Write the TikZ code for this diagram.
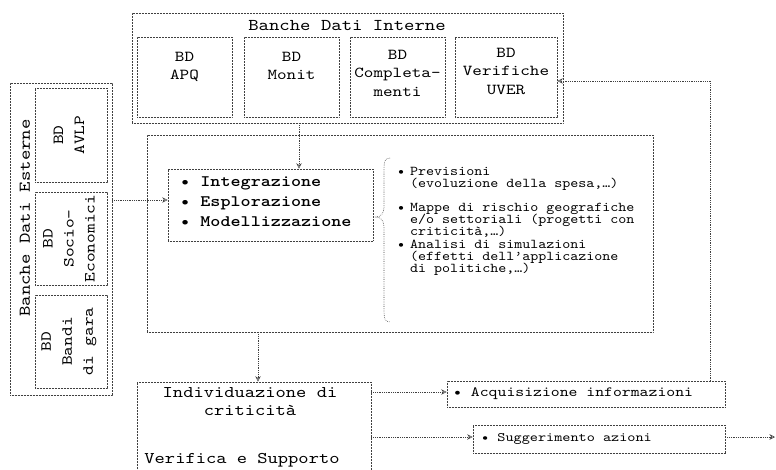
\documentclass[tikz,border=0pt]{standalone}
\usepackage{fontspec}
\usetikzlibrary{arrows.meta}
\newfontfamily\bmono{lmmonolt10-bold.otf}[FakeStretch=1.2]
\newfontfamily\cmono{lmmono10-regular.otf}[FakeStretch=1.2]
\newfontfamily\pmono{lmmono10-regular.otf}[FakeStretch=1.13]
\newcommand\bul{\makebox[13pt][l]{•}}
\newcommand\ind{\hspace*{13pt}}
\newcommand\tightlines{\setlength{\lineskiplimit}{-20pt}}
\begin{document}
\begin{tikzpicture}[x=1pt,y=-1pt,
  box/.style={rectangle, draw=black!75, dash pattern=on 0.6pt off 0.9pt, line width=0.6pt, inner sep=0pt},
  conn/.style={draw=black!75, dash pattern=on 0.6pt off 1.2pt, line width=0.6pt},
  arr/.style={conn, -{Stealth[open, length=5.5pt, width=5.5pt]}},
  ttl/.style={font=\cmono\fontsize{16.5}{18}\selectfont, inner sep=0pt},
  inb/.style={font=\cmono\fontsize{15.2}{18.5}\selectfont, align=center, inner sep=0pt},
  inr/.style={font=\cmono\fontsize{15.4}{21}\selectfont, align=center, inner sep=0pt, rotate=90},
  bld/.style={font=\bmono\fontsize{16}{20}\selectfont, align=left, inner sep=0pt},
  lst/.style={font=\pmono\fontsize{13.5}{12}\selectfont\tightlines, align=left, inner sep=0pt, anchor=north west},
  ind/.style={font=\cmono\fontsize{16.3}{18}\selectfont, inner sep=0pt, anchor=base},
]
\useasboundingbox (0,0) rectangle (776,469);
\clip (0,0) rectangle (776,469);
\fill[white] (0,0) rectangle (776,469);

% internal databases
\node[box, minimum width=431pt, minimum height=110pt] (bdi) at (347.5,68) {};
\node[ttl] (bdit) at (347,26) {Banche Dati Interne};
\node[box, minimum width=95pt, minimum height=80pt] (apq) at (184.5,77) {};
\node[inb, anchor=north] (apqt) at (184.5,52) {BD\\APQ};
\node[box, minimum width=95pt, minimum height=80pt] (monit) at (291.5,77) {};
\node[inb, anchor=north] (monitt) at (291.5,52) {BD\\Monit};
\node[box, minimum width=95pt, minimum height=80pt] (compl) at (397.5,77) {};
\node[inb, anchor=north] (complt) at (397.5,50) {BD\\Completa-\\menti};
\node[box, minimum width=102pt, minimum height=80pt] (verif) at (506,77) {};
\node[inb, anchor=north] (verift) at (506,48) {BD\\Verifiche\\UVER};

% external databases
\node[box, minimum width=102pt, minimum height=312pt] (bde) at (61,239) {};
\node[ttl, rotate=90] (bdet) at (25,218) {Banche Dati Esterne};
\node[box, minimum width=72pt, minimum height=94pt] (avlp) at (71,135) {};
\node[inr] (avlpt) at (69,135) {BD\\AVLP};
\node[box, minimum width=72pt, minimum height=93pt] (socio) at (71,238.5) {};
\node[inr] (sociot) at (69,238.5) {BD\\Socio-\\Economici};
\node[box, minimum width=72pt, minimum height=93pt] (bandi) at (71,341.5) {};
\node[inr] (bandit) at (69,341.5) {BD\\Bandi\\di gara};

% analysis core
\node[box, minimum width=506pt, minimum height=197pt] (core) at (400,233.5) {};
\node[box, minimum width=205pt, minimum height=72pt] (integ) at (270.5,205) {};
\node[bld, anchor=north west] (integt) at (180,177) {• Integrazione\\• Esplorazione\\• Modellizzazione};

% brace
\draw[conn] (390,158) .. controls (384,158) and (384,163) .. (384,170) -- (384,207)
  .. controls (384,213) and (381,217) .. (376,217)
  .. controls (381,217) and (384,221) .. (384,227) -- (384,310)
  .. controls (384,317) and (384,322) .. (390,322);

\node[lst] (out1) at (397,167) {\bul Previsioni\\\ind(evoluzione della spesa,…)};
\node[lst] (out2) at (397,203) {\bul Mappe di rischio geografiche\\\ind e/o settoriali (progetti con\\\ind criticità,…)};
\node[lst] (out3) at (397,240) {\bul Analisi di simulazioni\\\ind(effetti dell’applicazione\\\ind di politiche,…)};

% results
\node[box, minimum width=234pt, minimum height=100pt] (indiv) at (254,432) {};
\node[ind] (ind1) at (250,397) {Individuazione di};
\node[ind] (ind2) at (250,415) {criticità};
\node[ind] (ind3) at (242,463) {Verifica e Supporto};

\node[box, minimum width=278pt, minimum height=26pt] (acq) at (586,394) {};
\node[font=\cmono\fontsize{14.1}{15}\selectfont, inner sep=0pt, anchor=west] (acqt) at (453,394) {• Acquisizione informazioni};
\node[box, minimum width=252pt, minimum height=28pt] (sug) at (599,439) {};
\node[font=\cmono\fontsize{12.9}{14}\selectfont, inner sep=0pt, anchor=west] (sugt) at (481,439) {• Suggerimento azioni};

% connectors
\coordinate (xa) at (299,0);
\draw[arr] (bdi.south -| xa) -- (integ.north -| xa);
\coordinate (ya) at (0,200);
\draw[arr] (bde.east |- ya) -- (integ.west |- ya);
\coordinate (xb) at (258,0);
\draw[arr] (core.south -| xb) -- (indiv.north -| xb);
\coordinate (yc) at (0,392);
\draw[arr] (indiv.east |- yc) -- (acq.west |- yc);
\coordinate (yd) at (0,437);
\draw[arr] (indiv.east |- yd) -- (sug.west |- yd);
\coordinate (corner) at (710,81);
\draw[arr] (acq.north -| corner) -- (corner) -- (verif.east |- corner);
\coordinate (edge) at (775,437);
\draw[arr] (sug.east |- edge) -- (edge);
\end{tikzpicture}
\end{document}
